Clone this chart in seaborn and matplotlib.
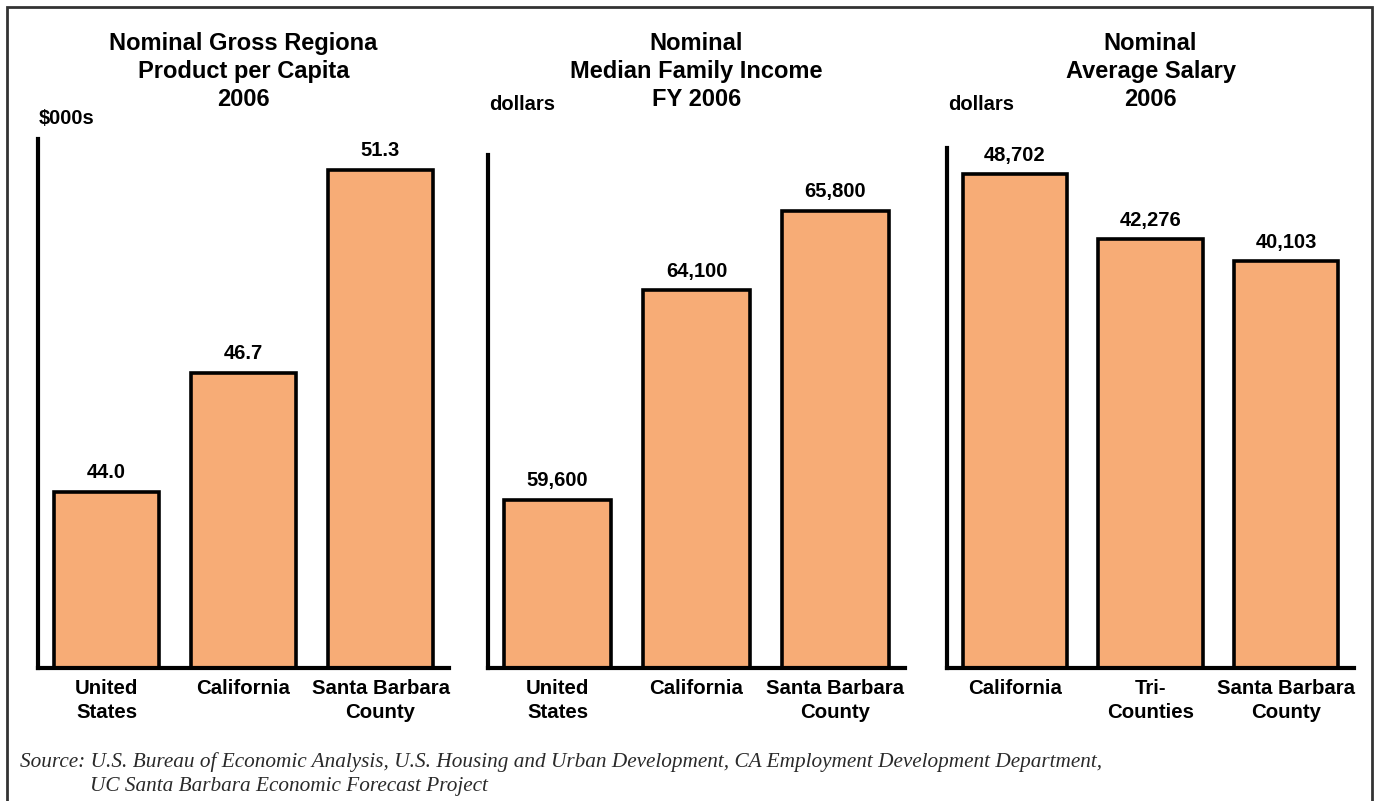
import matplotlib
matplotlib.use("Agg")
import matplotlib.pyplot as plt
import seaborn as sns
import pandas as pd
from matplotlib.patches import Rectangle

# ---- data ----
gdp_cats = ["United\nStates", "California", "Santa Barbara\nCounty"]
gdp_vals = [44.0, 46.7, 51.3]
gdp_labels = ["44.0", "46.7", "51.3"]

inc_cats = ["United\nStates", "California", "Santa Barbara\nCounty"]
inc_vals = [59600, 64100, 65800]
inc_labels = ["59,600", "64,100", "65,800"]

sal_cats = ["California", "Tri-\nCounties", "Santa Barbara\nCounty"]
sal_vals = [48702, 42276, 40103]
sal_labels = ["48,702", "42,276", "40,103"]

titles = ["Nominal Gross Regiona\nProduct per Capita\n2006",
          "Nominal\nMedian Family Income\nFY 2006",
          "Nominal\nAverage Salary\n2006"]
units = ["$000s", "dollars", "dollars"]
source_line1 = ("Source: U.S. Bureau of Economic Analysis, U.S. Housing and Urban Development, "
                "CA Employment Development Department,")
source_line2 = "UC Santa Barbara Economic Forecast Project"

sns.set_style("white")
plt.rcParams["font.family"] = ["Liberation Sans", "DejaVu Sans"]
plt.rcParams["text.color"] = "black"
plt.rcParams["xtick.color"] = "black"

W, H = 1378, 801
fig = plt.figure(figsize=(W / 100, H / 100), dpi=100)

BAR_COLOR = "#F7AC76"

# axes boxes in pixels: left, right, top, bottom
boxes = [(38, 449, 139, 668), (488, 905, 155, 668), (947, 1354, 148, 668)]
ylims = [(40, 52), (56000, 67000), (0, 51300)]
unit_pos = [(39, 118), (489, 105), (948, 105)]

datasets = [(gdp_cats, gdp_vals, gdp_labels),
            (inc_cats, inc_vals, inc_labels),
            (sal_cats, sal_vals, sal_labels)]

for i, ((l, r, t, b), (cats, vals, labs)) in enumerate(zip(boxes, datasets)):
    ax = fig.add_axes([l / W, 1 - b / H, (r - l) / W, (b - t) / H])
    df = pd.DataFrame({"cat": cats, "val": vals})
    sns.barplot(data=df, x="cat", y="val", ax=ax, color=BAR_COLOR,
                edgecolor="black", linewidth=2.6, width=0.77, saturation=1)
    ax.set_ylim(*ylims[i])
    ax.set_xlim(-0.5, 2.5)
    ax.bar_label(ax.containers[0], labels=labs, padding=7,
                 fontsize=14.5, fontweight="bold", color="black")
    for s in ["top", "right"]:
        ax.spines[s].set_visible(False)
    for s in ["left", "bottom"]:
        ax.spines[s].set_color("black")
        ax.spines[s].set_linewidth(3)
    ax.set_yticks([])
    ax.tick_params(axis="x", length=0, pad=8, labelsize=14.7, labelcolor="black")
    for lab in ax.get_xticklabels():
        lab.set_fontweight("bold")
        lab.set_linespacing(1.33)
    ax.set_xlabel("")
    ax.set_ylabel("")
    cx = (l + r) / 2
    fig.text(cx / W, 1 - 71.5 / H, titles[i], ha="center", va="center",
             fontsize=17, fontweight="bold", linespacing=1.28, color="black")
    ux, uy = unit_pos[i]
    fig.text(ux / W, 1 - uy / H, units[i], ha="left", va="center",
             fontsize=14.5, fontweight="bold", color="black")

serif = ["Liberation Serif", "DejaVu Serif"]
fig.text(20 / W, 1 - 762 / H, source_line1, ha="left", va="center",
         fontsize=15.3, style="italic", color="#2a2a2a", family=serif)
fig.text(90 / W, 1 - 787 / H, source_line2, ha="left", va="center",
         fontsize=15.3, style="italic", color="#2a2a2a", family=serif)

fig.patches.append(Rectangle((7 / W, -0.05), (1372 - 7) / W, (1 - 7 / H) + 0.05,
                             transform=fig.transFigure, fill=False,
                             edgecolor="#333333", linewidth=2))

fig.savefig("out.png", dpi=100)
